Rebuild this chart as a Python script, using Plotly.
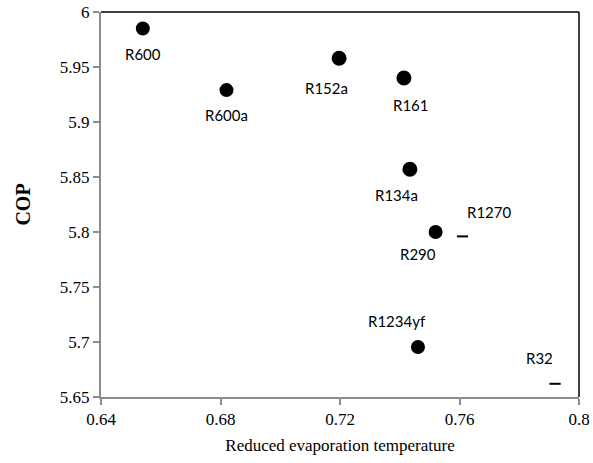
import plotly.graph_objects as go

refrigerants = ["R600", "R600a", "R152a", "R161", "R134a", "R290", "R1270", "R1234yf", "R32"]
reduced_temp = [0.654, 0.682, 0.7197, 0.7414, 0.7434, 0.752, 0.761, 0.7461, 0.792]
cop = [5.985, 5.929, 5.958, 5.940, 5.857, 5.800, 5.796, 5.6955, 5.662]

x_range = [0.64, 0.8]
x_step = 0.04
y_range = [5.65, 6.0]
y_step = 0.05

# styling (not data)
symbols = ["circle", "circle", "circle", "circle", "circle", "circle", "line-ew", "circle", "line-ew"]
sizes = [12, 12, 13, 13, 13, 12, 8, 12, 8]
label_shift = {
    "R600": (0, -25), "R600a": (0, -25), "R152a": (-13, -30), "R161": (7, -27),
    "R134a": (-13, -26), "R290": (-18, -22), "R1270": (27, 24), "R1234yf": (-21, 26),
    "R32": (-16, 26),
}

fig = go.Figure()
fig.add_trace(go.Scatter(
    x=reduced_temp, y=cop, mode="markers",
    marker=dict(color="#000000", symbol=symbols, size=sizes, opacity=1,
                line=dict(color="#000000", width=2)),
    showlegend=False,
))

for name, xv, yv in zip(refrigerants, reduced_temp, cop):
    dx, dy = label_shift[name]
    fig.add_annotation(x=xv, y=yv, text=name, showarrow=False,
                       xshift=dx, yshift=dy,
                       font=dict(family="Lato", size=15, color="#000000"))

serif = "Liberation Serif"
fig.update_layout(
    template="none",
    width=593, height=463, margin=dict(l=101, r=14, t=12, b=66),
    font=dict(family=serif, color="#000000", size=17),
    plot_bgcolor="white", paper_bgcolor="white",
)
fig.update_xaxes(range=x_range, tickmode="linear", tick0=x_range[0], dtick=x_step,
                 showgrid=False, zeroline=False, showline=True, linecolor="#8c8c8c", linewidth=2,
                 ticks="outside", tickcolor="#8c8c8c", ticklen=6, tickwidth=1.5,
                 tickfont=dict(family=serif, size=17, color="#000000"),
                 title_text="Reduced evaporation temperature",
                 title_font=dict(family=serif, size=17, color="#000000"), title_standoff=11)
fig.update_yaxes(range=y_range, tickmode="linear", tick0=y_range[0], dtick=y_step,
                 showgrid=False, zeroline=False, showline=True, linecolor="#8c8c8c", linewidth=2,
                 ticks="outside", tickcolor="#8c8c8c", ticklen=6, tickwidth=1.5,
                 tickfont=dict(family=serif, size=17, color="#000000"),
                 title_text="<b>COP</b>",
                 title_font=dict(family=serif, size=20, color="#000000"), title_standoff=24)

# black frame on top and right
fig.add_shape(type="line", xref="paper", yref="paper", x0=0, x1=1, y0=1, y1=1,
              line=dict(color="black", width=1.5))
fig.add_shape(type="line", xref="paper", yref="paper", x0=1, x1=1, y0=0, y1=1,
              line=dict(color="black", width=1.5))

fig.write_html("out.html")
